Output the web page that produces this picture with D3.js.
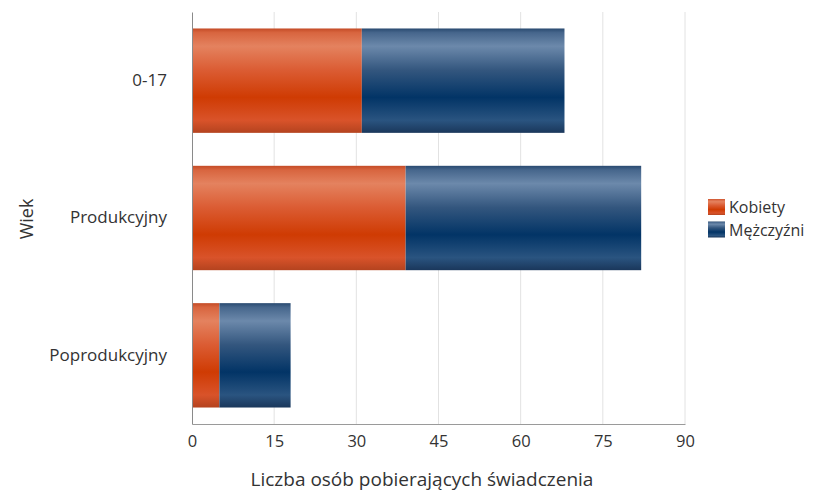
<!DOCTYPE html>
<html><head><meta charset="utf-8">
<script src="https://cdn.jsdelivr.net/npm/d3@7"></script>
<style>
body{margin:0;background:#fff;}
text{font-family:"Open Sans","Noto Sans",sans-serif;fill:#333;}
</style></head>
<body><svg id="c" width="821" height="493"></svg>
<script>
const categories = ["0-17", "Produkcyjny", "Poprodukcyjny"];
const seriesNames = ["Kobiety", "Mężczyźni"];
const kobiety = [31, 39, 5];
const mezczyzni = [37, 43, 13];
const xTicks = [0, 15, 30, 45, 60, 75, 90];
const xTitle = "Liczba osób pobierających świadczenia";
const yTitle = "Wiek";

const svg = d3.select("#c");
const m = {l:192, r:685, t:12, b:424};
const x = d3.scaleLinear().domain([0, 90]).range([m.l, m.r]);
const y = d3.scaleBand().domain(categories).range([m.t, m.b]).paddingInner(0.24).paddingOuter(0.12);

const defs = svg.append("defs");
function grad(id, stops){
  const g = defs.append("linearGradient").attr("id", id).attr("x1",0).attr("y1",0).attr("x2",0).attr("y2",1);
  stops.forEach(s => g.append("stop").attr("offset", s[0]).attr("stop-color", s[1]));
}
grad("gO", [[0,"#c44b26"],[0.04,"#d8653f"],[0.17,"#e4825f"],[0.4,"#db5c33"],[0.66,"#cf3b03"],[0.88,"#d9532a"],[1,"#b4431f"]]);
grad("gB", [[0,"#294a70"],[0.04,"#46668c"],[0.17,"#6c89ab"],[0.4,"#33567e"],[0.66,"#023466"],[0.88,"#2a5480"],[1,"#1a375b"]]);
const fills = ["url(#gO)", "url(#gB)"];

// gridlines
svg.append("g").selectAll("line").data(xTicks.slice(1)).join("line")
  .attr("x1", d=>x(d)).attr("x2", d=>x(d)).attr("y1", m.t).attr("y2", m.b)
  .attr("stroke", "#e2e2e2").attr("stroke-width", 1);

// stacked bars
const rows = categories.map((c,i)=>({cat:c, Kobiety:kobiety[i], "Mężczyźni":mezczyzni[i]}));
const stack = d3.stack().keys(seriesNames)(rows);
svg.append("g").selectAll("g").data(stack).join("g")
  .attr("fill", (d,i)=>fills[i])
  .selectAll("rect").data(d=>d).join("rect")
  .attr("x", d=>x(d[0])).attr("width", d=>x(d[1])-x(d[0]))
  .attr("y", d=>y(d.data.cat)).attr("height", y.bandwidth());

// axes
const xAxis = d3.axisBottom(x).tickValues(xTicks).tickSize(0).tickPadding(11);
const gx = svg.append("g").attr("transform", `translate(0,${m.b})`).call(xAxis);
gx.select(".domain").attr("stroke", "#9a9a9a");
gx.selectAll("text").style("font-size","16.5px").attr("fill","#333");

const yAxis = d3.axisLeft(y).tickSize(0).tickPadding(25);
const gy = svg.append("g").attr("transform", `translate(${m.l},0)`).call(yAxis);
gy.select(".domain").attr("stroke", "#8a8a8a");
gy.selectAll("text").style("font-size","17px").attr("fill","#333");

// titles
svg.append("text").attr("x", 422).attr("y", 486).attr("text-anchor","middle")
  .style("font-size","19px").text(xTitle);
svg.append("text").attr("transform", `translate(33,${(m.t+m.b)/2+1}) rotate(-90)`)
  .attr("text-anchor","middle").style("font-size","18px").text(yTitle);

// legend
const lg = svg.append("g").attr("transform","translate(708,198)");
seriesNames.forEach((s,i)=>{
  lg.append("rect").attr("x",0).attr("y", i*22.5+1).attr("width",17).attr("height",16).attr("fill", fills[i]);
  lg.append("text").attr("x",21).attr("y", i*22.5+15).style("font-size","16px").text(s);
});
</script></body></html>
